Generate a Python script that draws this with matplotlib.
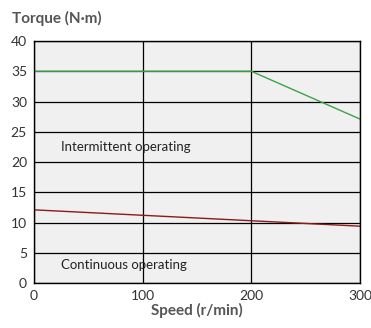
import numpy as np
import matplotlib.pyplot as plt

# torque-speed data
speed_max = [0, 200, 300]
torque_max = [35, 35, 27.1]
speed_cont = [0, 300]
torque_cont = [12.1, 9.4]

x_ticks = [0, 100, 200, 300]
y_ticks = [0, 5, 10, 15, 20, 25, 30, 35, 40]

plt.rcParams['font.family'] = ['Lato', 'DejaVu Sans']

fig = plt.figure(figsize=(3.71, 3.28), dpi=100)
ax = fig.add_axes([0.0916, 0.137, 0.8787, 0.738])
ax.set_facecolor('#f0f0f0')

ax.plot(speed_max, torque_max, color='#3aa34a', lw=1.0)
ax.plot(speed_cont, torque_cont, color='#8b1a1a', lw=1.0)

ax.set_xlim(0, 300)
ax.set_ylim(0, 40)
ax.set_xticks(x_ticks)
ax.set_yticks(y_ticks)
ax.grid(True, color='black', lw=0.9)
ax.set_axisbelow(True)
ax.tick_params(length=0, labelsize=10, colors='#333333', pad=5)
for s in ax.spines.values():
    s.set_color('black')
    s.set_linewidth(1.0)

ax.text(25, 22.5, 'Intermittent operating', fontsize=9.5, color='#222222', va='center')
ax.text(25, 3.0, 'Continuous operating', fontsize=9.5, color='#222222', va='center')

ax.set_xlabel('Speed (r/min)', fontsize=11, fontweight='bold', color='#555555', labelpad=1)
fig.text(0.032, 0.945, 'Torque (N·m)', fontsize=11, fontweight='bold', color='#555555', va='center')

fig.savefig('out.png', dpi=100)
